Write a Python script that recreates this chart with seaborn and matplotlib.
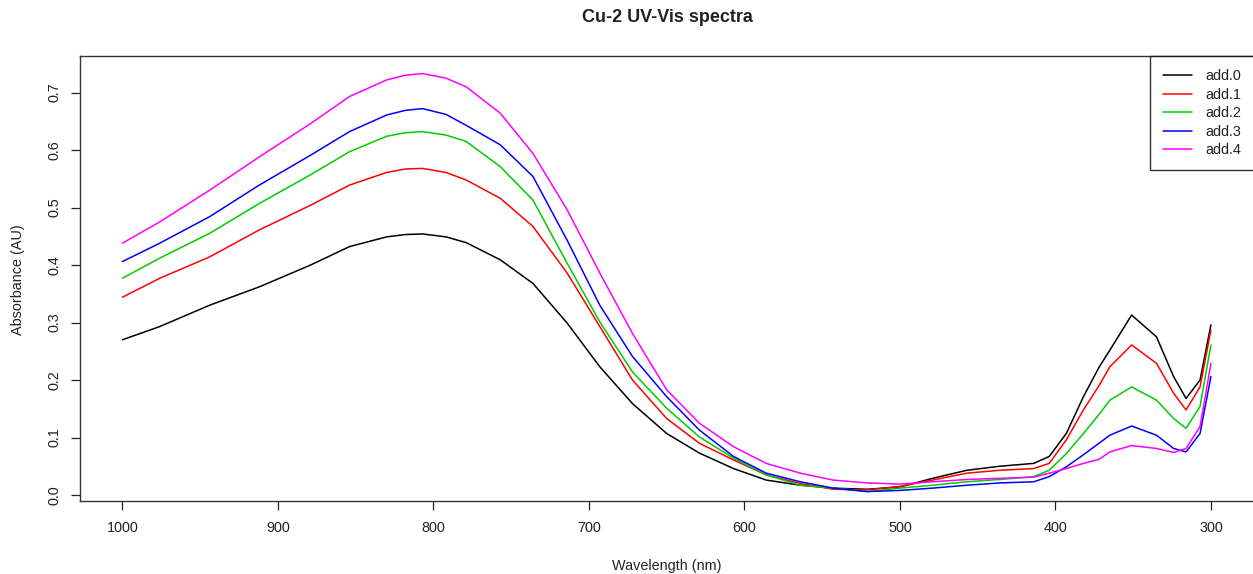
import numpy as np
import pandas as pd
import matplotlib
matplotlib.use("Agg")
import matplotlib.pyplot as plt
import seaborn as sns
from matplotlib.lines import Line2D

# ---- data ----
wavelength = [1000, 976, 944, 912, 879, 854, 830, 818, 807, 792, 779, 757, 736, 714, 693,
              672, 650, 629, 607, 586, 564, 543, 521, 500, 479, 457, 436, 414, 404, 393,
              382, 372, 365, 351, 335, 324, 316, 307, 300]

add0 = [0.270, 0.293, 0.330, 0.362, 0.400, 0.432, 0.449, 0.453, 0.454, 0.449, 0.439, 0.409,
        0.368, 0.299, 0.223, 0.159, 0.107, 0.073, 0.046, 0.026, 0.017, 0.012, 0.010, 0.014,
        0.029, 0.043, 0.050, 0.055, 0.067, 0.107, 0.171, 0.222, 0.252, 0.313, 0.275, 0.206,
        0.168, 0.200, 0.296]
add1 = [0.344, 0.377, 0.414, 0.461, 0.504, 0.539, 0.561, 0.567, 0.568, 0.561, 0.548, 0.516,
        0.467, 0.386, 0.293, 0.200, 0.133, 0.090, 0.061, 0.035, 0.020, 0.010, 0.009, 0.015,
        0.026, 0.038, 0.043, 0.046, 0.055, 0.096, 0.148, 0.190, 0.223, 0.261, 0.229, 0.177,
        0.148, 0.188, 0.287]
add2 = [0.377, 0.412, 0.455, 0.507, 0.557, 0.597, 0.624, 0.630, 0.632, 0.626, 0.615, 0.571,
        0.513, 0.403, 0.301, 0.214, 0.151, 0.101, 0.064, 0.035, 0.017, 0.012, 0.006, 0.012,
        0.017, 0.023, 0.027, 0.032, 0.043, 0.072, 0.107, 0.140, 0.165, 0.188, 0.165, 0.133,
        0.116, 0.154, 0.261]
add3 = [0.406, 0.438, 0.484, 0.539, 0.591, 0.632, 0.661, 0.669, 0.672, 0.662, 0.643, 0.609,
        0.554, 0.443, 0.330, 0.241, 0.171, 0.113, 0.067, 0.038, 0.023, 0.012, 0.006, 0.008,
        0.012, 0.017, 0.021, 0.023, 0.032, 0.049, 0.070, 0.090, 0.104, 0.120, 0.104, 0.081,
        0.075, 0.107, 0.206]
add4 = [0.438, 0.475, 0.530, 0.588, 0.646, 0.693, 0.722, 0.730, 0.733, 0.725, 0.710, 0.664,
        0.594, 0.496, 0.386, 0.281, 0.183, 0.125, 0.084, 0.055, 0.038, 0.026, 0.021, 0.019,
        0.023, 0.027, 0.029, 0.031, 0.038, 0.046, 0.055, 0.062, 0.075, 0.086, 0.081, 0.074,
        0.081, 0.119, 0.229]

series_names = ["add.0", "add.1", "add.2", "add.3", "add.4"]
series_values = [add0, add1, add2, add3, add4]
colors = ["#000000", "#FF0000", "#00CD00", "#0000FF", "#FF00FF"]
x_ticks = [1000, 900, 800, 700, 600, 500, 400, 300]
y_ticks = [0.0, 0.1, 0.2, 0.3, 0.4, 0.5, 0.6, 0.7]

rows = []
for name, vals in zip(series_names, series_values):
    for w, v in zip(wavelength, vals):
        rows.append({"Wavelength": w, "Absorbance": v, "series": name})
df = pd.DataFrame(rows)

# ---- style ----
sns.set_style("ticks")
plt.rcParams["font.family"] = ["Liberation Sans", "DejaVu Sans"]
plt.rcParams["font.size"] = 10.4

W, H = 1253, 574
fig = plt.figure(figsize=(W / 100, H / 100), dpi=100)
fig.patch.set_facecolor("white")
left, right, top, bottom = 80, 1254, 56, 501
ax = fig.add_axes([left / W, (H - bottom) / H, (right - left) / W, (bottom - top) / H])

sns.lineplot(data=df, x="Wavelength", y="Absorbance", hue="series",
             palette=dict(zip(series_names, colors)), estimator=None, sort=False,
             linewidth=1.1, ax=ax, legend=False)

ax.set_xlim(1027.3, 272.3)
ax.set_ylim(-0.0104, 0.7635)
ax.set_xticks(x_ticks)
ax.set_xticklabels([str(t) for t in x_ticks])
ax.set_yticks(y_ticks)
ax.set_yticklabels([f"{t:.1f}" for t in y_ticks], rotation=90, va="center")
ax.tick_params(axis="both", direction="out", length=6.5, width=0.9, color="#222222",
               labelsize=10.4, labelcolor="#222222")
ax.tick_params(axis="x", pad=8)
ax.tick_params(axis="y", pad=7)
for sp in ax.spines.values():
    sp.set_visible(True)
    sp.set_color("#333333")
    sp.set_linewidth(1.0)
ax.set_xlabel("")
ax.set_ylabel("")

# legend
handles = [Line2D([0], [0], color=c, lw=1.1) for c in colors]
leg = ax.legend(handles, series_names, loc="upper right", bbox_to_anchor=(1.0, 1.0),
                borderaxespad=0, frameon=True, fancybox=False, fontsize=10.4,
                handlelength=2.0, handletextpad=0.9, borderpad=0.9, labelspacing=0.32)
leg.get_frame().set_edgecolor("#000000")
leg.get_frame().set_linewidth(1.0)
for t in leg.get_texts():
    t.set_color("#222222")

cx = (left + right) / 2 / W
fig.text(cx, 1 - 18 / H, "Cu-2 UV-Vis spectra", ha="center", va="center",
         fontsize=13, fontweight="bold", color="#222222")
fig.text(cx, 1 - 566 / H, "Wavelength (nm)", ha="center", va="center",
         fontsize=10.4, color="#222222")
fig.text(18 / W, 1 - 280 / H, "Absorbance (AU)", ha="center", va="center",
         rotation=90, fontsize=10.4, color="#222222")

fig.savefig("out.png", dpi=100, facecolor="white")
